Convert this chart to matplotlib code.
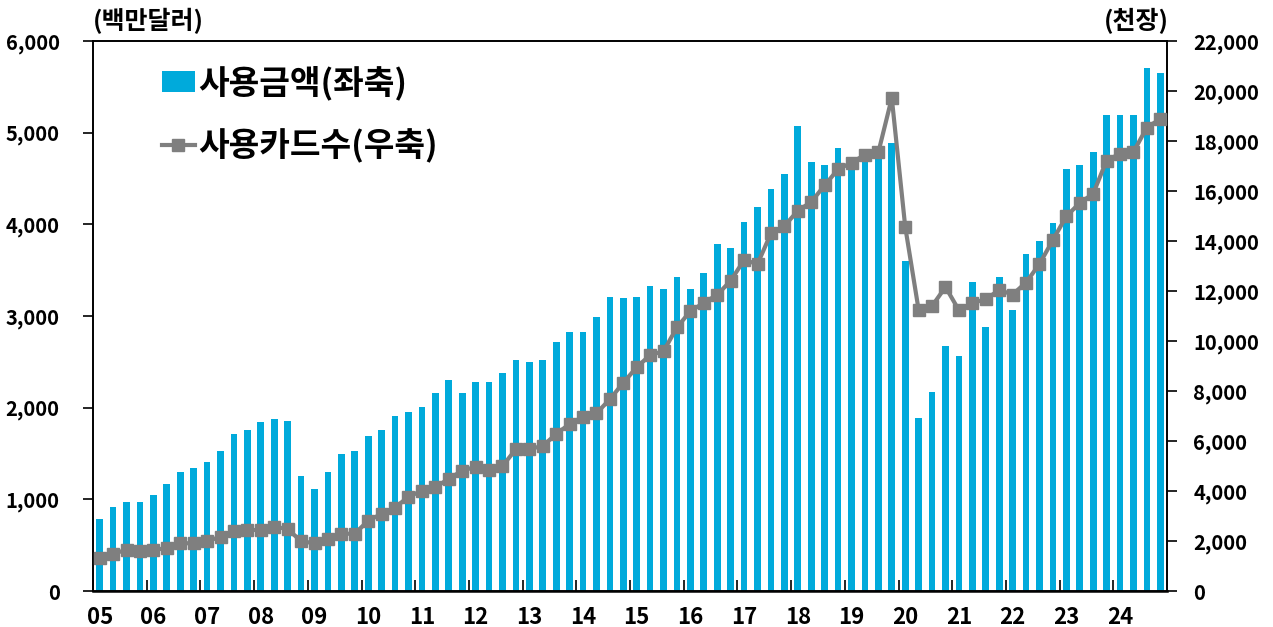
import matplotlib
matplotlib.use("Agg")
import matplotlib.pyplot as plt
from matplotlib.patches import Patch
from matplotlib.lines import Line2D

plt.rcParams['font.family'] = ['Noto Sans CJK KR', 'DejaVu Sans']
plt.rcParams['font.weight'] = 'bold'

years = ['05', '06', '07', '08', '09', '10', '11', '12', '13', '14',
         '15', '16', '17', '18', '19', '20', '21', '22', '23', '24']

# 사용금액 (백만달러), quarterly 2005Q1-2024Q4
amount = [790, 920, 975, 975,
          1050, 1165, 1295, 1340,
          1405, 1525, 1710, 1755,
          1840, 1880, 1850, 1250,
          1110, 1295, 1495, 1525,
          1695, 1755, 1910, 1950,
          2010, 2165, 2300, 2165,
          2280, 2280, 2380, 2525,
          2495, 2525, 2715, 2830,
          2830, 2985, 3210, 3195,
          3210, 3325, 3300, 3430,
          3300, 3470, 3785, 3740,
          4030, 4185, 4385, 4545,
          5075, 4675, 4645, 4830,
          4700, 4750, 4800, 4890,
          3600, 1885, 2170, 2668,
          2568, 3370, 2885, 3425,
          3070, 3672, 3817, 4015,
          4600, 4645, 4790, 5190,
          5190, 5190, 5708, 5650]

# 사용카드수 (천장)
cards = [1330, 1500, 1640, 1590,
         1640, 1720, 1910, 1910,
         1990, 2170, 2410, 2440,
         2440, 2570, 2480, 1990,
         1910, 2090, 2280, 2300,
         2810, 3090, 3340, 3770,
         4010, 4150, 4490, 4810,
         4970, 4840, 5000, 5670,
         5680, 5800, 6280, 6680,
         6970, 7110, 7670, 8330,
         8950, 9440, 9590, 10550,
         11190, 11530, 11850, 12410,
         13240, 13080, 14310, 14600,
         15210, 15560, 16230, 16870,
         17130, 17450, 17550, 19720,
         14570, 11240, 11400, 12160,
         11230, 11520, 11670, 12040,
         11860, 12340, 13080, 14040,
         14990, 15520, 15890, 17220,
         17490, 17560, 18540, 18880]

bar_color = '#00AADB'
line_color = '#7F7F7F'

fig = plt.figure(figsize=(12.73, 6.27), dpi=100)
ax = fig.add_axes([93/1273, 36/627, 1074/1273, 550/627])
ax2 = ax.twinx()

x = list(range(len(amount)))
ax.bar(x, amount, width=0.5, color=bar_color, zorder=2)
ax2.plot(x, cards, color=line_color, lw=3, marker='s', markersize=9,
         markerfacecolor=line_color, markeredgecolor=line_color, zorder=3)

ax.set_xlim(-0.5, len(amount) - 0.5)
ax.set_ylim(0, 6000)
ax2.set_ylim(0, 22000)

ax.set_yticks(range(0, 6001, 1000))
ax.set_yticklabels([f'{v:,}' for v in range(0, 6001, 1000)])
ax2.set_yticks(range(0, 22001, 2000))
ax2.set_yticklabels([f'{v:,}' for v in range(0, 22001, 2000)])

# year labels at first quarter, ticks at year boundaries
ax.set_xticks([4 * i for i in range(len(years))])
ax.set_xticklabels(years)
ax.set_xticks([4 * i - 0.5 for i in range(len(years))], minor=True)
ax.tick_params(axis='x', which='major', length=0, pad=11, labelsize=16)
ax.tick_params(axis='x', which='minor', length=8, direction='in', width=1.2)
ax.tick_params(axis='y', length=7, width=1.2, pad=17, labelsize=14.5)
ax2.tick_params(axis='y', length=7, width=1.2, pad=12, labelsize=14.5)
for lab in ax.get_xticklabels() + ax.get_yticklabels() + ax2.get_yticklabels():
    lab.set_fontweight('heavy')

for a in (ax, ax2):
    for s in a.spines.values():
        s.set_color('black')
        s.set_linewidth(1.2)
ax.spines['bottom'].set_linewidth(1.8)

fig.text(93/1273, 1 - 21/627, '(백만달러)', ha='left', va='center',
         fontsize=18, fontweight='heavy')
fig.text(1169/1273, 1 - 21/627, '(천장)', ha='right', va='center',
         fontsize=18, fontweight='heavy')

handles = [Patch(facecolor=bar_color, edgecolor='none'),
           Line2D([], [], color=line_color, lw=3, marker='s', markersize=9)]
leg = ax.legend(handles, ['사용금액(좌축)', '사용카드수(우축)'],
                loc='upper left', bbox_to_anchor=(0.064, 0.955),
                frameon=False, handlelength=1.0, handleheight=0.6,
                handletextpad=0.1, labelspacing=0.85, borderpad=0, borderaxespad=0,
                prop={'weight': 'heavy', 'size': 24})

fig.savefig('out.png', dpi=100)
